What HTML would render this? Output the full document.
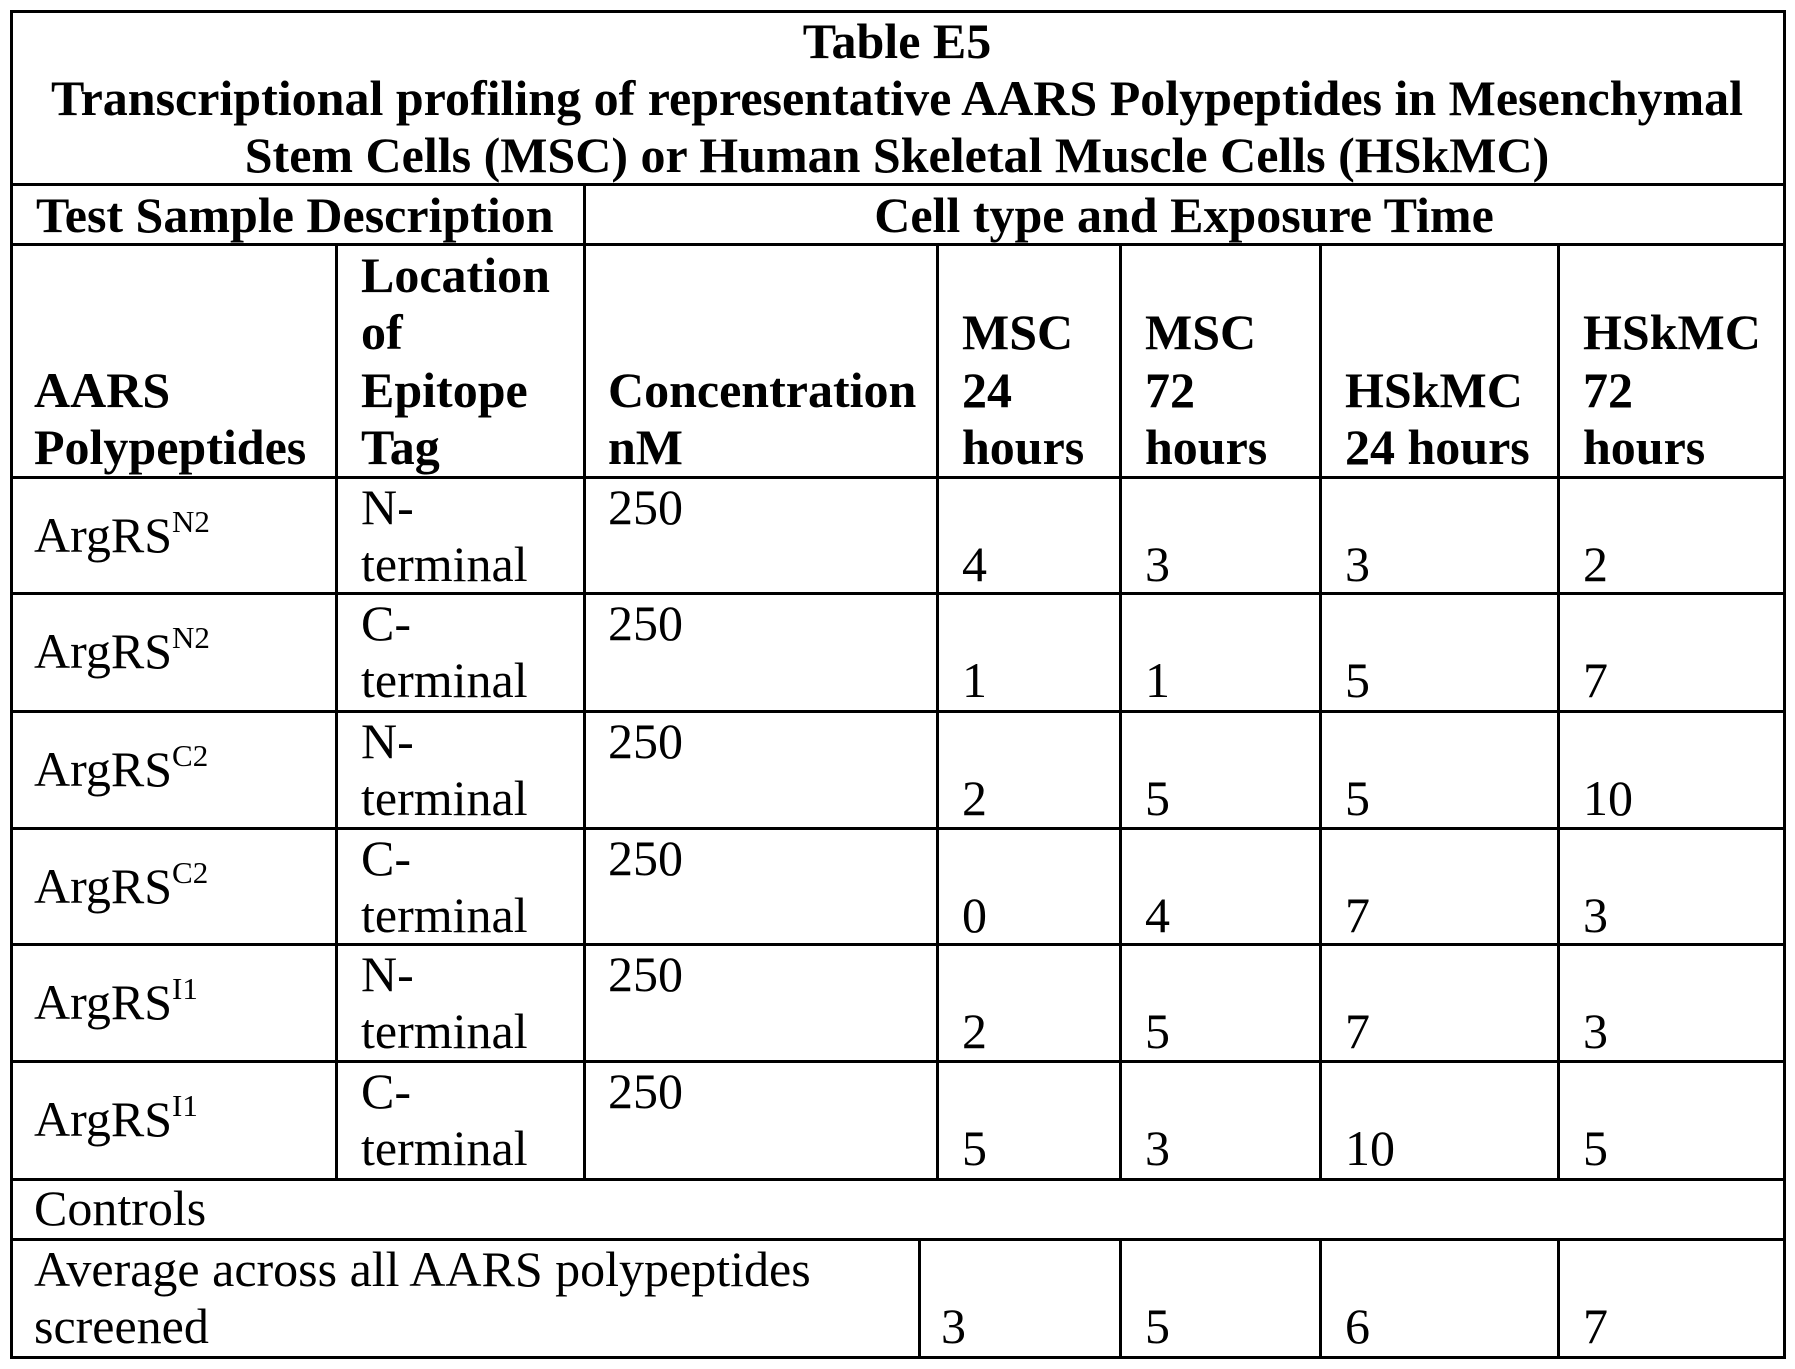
<!DOCTYPE html>
<html><head><meta charset="utf-8"><style>
body{margin:0;background:#fff;width:1795px;height:1369px;position:relative;overflow:hidden;font-family:"Liberation Serif",serif;color:#000}
.h,.v{position:absolute;background:#000}
.h{height:3px}.v{width:3px}
.t{position:absolute;font-size:50px;line-height:57px;white-space:nowrap;margin-top:-1px}
.b{font-weight:bold}
sup{font-size:31px;vertical-align:0;position:relative;top:-20px}
.c{text-align:center;left:11px;width:1772px}
</style></head><body>
<div class="h" style="left:10px;top:10px;width:1776px"></div>
<div class="h" style="left:10px;top:183px;width:1776px"></div>
<div class="h" style="left:10px;top:243px;width:1776px"></div>
<div class="h" style="left:10px;top:476px;width:1776px"></div>
<div class="h" style="left:10px;top:592px;width:1776px"></div>
<div class="h" style="left:10px;top:710px;width:1776px"></div>
<div class="h" style="left:10px;top:827px;width:1776px"></div>
<div class="h" style="left:10px;top:943px;width:1776px"></div>
<div class="h" style="left:10px;top:1060px;width:1776px"></div>
<div class="h" style="left:10px;top:1178px;width:1776px"></div>
<div class="h" style="left:10px;top:1238px;width:1776px"></div>
<div class="h" style="left:10px;top:1356px;width:1776px"></div>
<div class="v" style="left:10px;top:10px;height:1349px"></div>
<div class="v" style="left:1783px;top:10px;height:1349px"></div>
<div class="v" style="left:583px;top:183px;height:998px"></div>
<div class="v" style="left:335px;top:243px;height:938px"></div>
<div class="v" style="left:936px;top:243px;height:938px"></div>
<div class="v" style="left:1119px;top:243px;height:938px"></div>
<div class="v" style="left:1319px;top:243px;height:938px"></div>
<div class="v" style="left:1557px;top:243px;height:938px"></div>
<div class="v" style="left:918px;top:1238px;height:121px"></div>
<div class="v" style="left:1119px;top:1238px;height:121px"></div>
<div class="v" style="left:1319px;top:1238px;height:121px"></div>
<div class="v" style="left:1557px;top:1238px;height:121px"></div>

<div class="t b c" style="top:14px">Table E5</div>
<div class="t b c" style="top:71px">Transcriptional profiling of representative AARS Polypeptides in Mesenchymal</div>
<div class="t b c" style="top:128px">Stem Cells (MSC) or Human Skeletal Muscle Cells (HSkMC)</div>
<div class="t b" style="top:188px;left:36px">Test Sample Description</div>
<div class="t b" style="top:188px;left:584px;width:1200px;text-align:center">Cell type and Exposure Time</div>

<div class="t b" style="top:248px;left:361px">Location</div>
<div class="t b" style="top:305px;left:361px">of</div>
<div class="t b" style="top:363px;left:361px">Epitope</div>
<div class="t b" style="top:420px;left:361px">Tag</div>
<div class="t b" style="top:363px;left:34px">AARS</div>
<div class="t b" style="top:420px;left:34px">Polypeptides</div>
<div class="t b" style="top:363px;left:608px">Concentration</div>
<div class="t b" style="top:420px;left:608px">nM</div>
<div class="t b" style="top:305px;left:962px">MSC</div>
<div class="t b" style="top:363px;left:962px">24</div>
<div class="t b" style="top:420px;left:962px">hours</div>
<div class="t b" style="top:305px;left:1145px">MSC</div>
<div class="t b" style="top:363px;left:1145px">72</div>
<div class="t b" style="top:420px;left:1145px">hours</div>
<div class="t b" style="top:363px;left:1345px">HSkMC</div>
<div class="t b" style="top:420px;left:1345px">24 hours</div>
<div class="t b" style="top:305px;left:1583px">HSkMC</div>
<div class="t b" style="top:363px;left:1583px">72</div>
<div class="t b" style="top:420px;left:1583px">hours</div>

<div class="t" style="top:508px;left:34px">ArgRS<sup>N2</sup></div>
<div class="t" style="top:480px;left:361px">N-</div><div class="t" style="top:537px;left:361px">terminal</div>
<div class="t" style="top:480px;left:608px">250</div>
<div class="t" style="top:537px;left:962px">4</div><div class="t" style="top:537px;left:1145px">3</div><div class="t" style="top:537px;left:1345px">3</div><div class="t" style="top:537px;left:1583px">2</div>

<div class="t" style="top:624px;left:34px">ArgRS<sup>N2</sup></div>
<div class="t" style="top:596px;left:361px">C-</div><div class="t" style="top:653px;left:361px">terminal</div>
<div class="t" style="top:596px;left:608px">250</div>
<div class="t" style="top:653px;left:962px">1</div><div class="t" style="top:653px;left:1145px">1</div><div class="t" style="top:653px;left:1345px">5</div><div class="t" style="top:653px;left:1583px">7</div>

<div class="t" style="top:742px;left:34px">ArgRS<sup>C2</sup></div>
<div class="t" style="top:714px;left:361px">N-</div><div class="t" style="top:771px;left:361px">terminal</div>
<div class="t" style="top:714px;left:608px">250</div>
<div class="t" style="top:771px;left:962px">2</div><div class="t" style="top:771px;left:1145px">5</div><div class="t" style="top:771px;left:1345px">5</div><div class="t" style="top:771px;left:1583px">10</div>

<div class="t" style="top:859px;left:34px">ArgRS<sup>C2</sup></div>
<div class="t" style="top:831px;left:361px">C-</div><div class="t" style="top:888px;left:361px">terminal</div>
<div class="t" style="top:831px;left:608px">250</div>
<div class="t" style="top:888px;left:962px">0</div><div class="t" style="top:888px;left:1145px">4</div><div class="t" style="top:888px;left:1345px">7</div><div class="t" style="top:888px;left:1583px">3</div>

<div class="t" style="top:975px;left:34px">ArgRS<sup>I1</sup></div>
<div class="t" style="top:947px;left:361px">N-</div><div class="t" style="top:1004px;left:361px">terminal</div>
<div class="t" style="top:947px;left:608px">250</div>
<div class="t" style="top:1004px;left:962px">2</div><div class="t" style="top:1004px;left:1145px">5</div><div class="t" style="top:1004px;left:1345px">7</div><div class="t" style="top:1004px;left:1583px">3</div>

<div class="t" style="top:1092px;left:34px">ArgRS<sup>I1</sup></div>
<div class="t" style="top:1064px;left:361px">C-</div><div class="t" style="top:1121px;left:361px">terminal</div>
<div class="t" style="top:1064px;left:608px">250</div>
<div class="t" style="top:1121px;left:962px">5</div><div class="t" style="top:1121px;left:1145px">3</div><div class="t" style="top:1121px;left:1345px">10</div><div class="t" style="top:1121px;left:1583px">5</div>

<div class="t" style="top:1181px;left:34px">Controls</div>
<div class="t" style="top:1242px;left:34px">Average across all AARS polypeptides</div>
<div class="t" style="top:1299px;left:34px">screened</div>
<div class="t" style="top:1299px;left:941px">3</div><div class="t" style="top:1299px;left:1145px">5</div><div class="t" style="top:1299px;left:1345px">6</div><div class="t" style="top:1299px;left:1583px">7</div>
</body></html>
